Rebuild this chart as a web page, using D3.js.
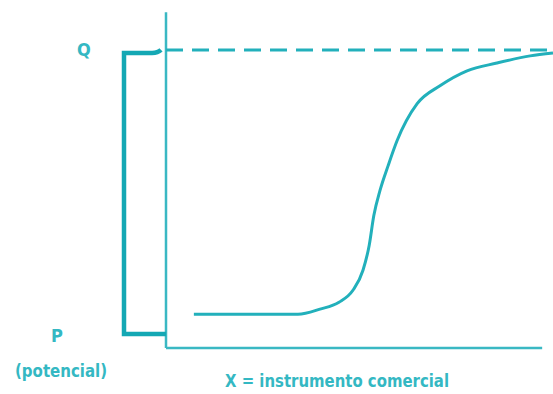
<!DOCTYPE html>
<html>
<head>
<meta charset="utf-8">
<script src="https://cdn.jsdelivr.net/npm/d3@7"></script>
<style>
  html, body { margin: 0; padding: 0; background: #fff; }
  svg { display: block; }
  .lbl { font-family: "Liberation Sans Narrow", "DejaVu Sans Condensed", sans-serif; font-weight: bold; fill: #34b8c3; }
</style>
</head>
<body>
<div id="chart"></div>
<script>
// curva de adopción (x = instrumento comercial, y = nivel)
const curveX = [7.2, 34.1, 39.8, 44.7, 48.3, 50.9, 52.5, 53.7, 55.3, 57.4, 59.7, 64.9, 70.8, 77.8, 85.5, 94.1, 100];
const curveY = [11.3, 11.3, 13.0, 15.3, 19.3, 26.0, 34.3, 44.3, 52.7, 61.0, 69.3, 81.7, 87.7, 92.7, 95.3, 97.7, 98.7];

// niveles P (potencial) y Q
const levelNames = ["P", "Q"];
const levelValues = [4.7, 99.7];

const xAxisMax = 97.2, yAxisMax = 112.3;
const xLabel = "X = instrumento comercial";
const pNote = "(potencial)";

const width = 553, height = 394;
const teal = "#22b0bb", bracketTeal = "#14a8b4";

const x = d3.scaleLinear().domain([0, 100]).range([166, 553]);
const y = d3.scaleLinear().domain([0, 100]).range([348, 49]);

const svg = d3.select("#chart").append("svg")
    .attr("width", width)
    .attr("height", height);

// ejes
svg.append("line")
    .attr("x1", x(0)).attr("x2", x(0))
    .attr("y1", y(0)).attr("y2", y(yAxisMax))
    .attr("stroke", "#3ab8c3").attr("stroke-width", 2.5);
svg.append("line")
    .attr("x1", x(0)).attr("x2", x(xAxisMax))
    .attr("y1", y(0)).attr("y2", y(0))
    .attr("stroke", "#3ab8c3").attr("stroke-width", 2.5);

// línea Q discontinua
svg.append("line")
    .attr("x1", x(0)).attr("x2", x(100))
    .attr("y1", y(levelValues[1])).attr("y2", y(levelValues[1]))
    .attr("stroke", teal).attr("stroke-width", 3)
    .attr("stroke-dasharray", "17,9");

// corchete P..Q
const bx = x(0) - 42;
const yTop = y(levelValues[1]) + 3, yBot = y(levelValues[0]);
svg.append("path")
    .attr("d", `M${x(0) - 5},${yTop - 3} Q${x(0) - 8},${yTop} ${x(0) - 14},${yTop} L${bx},${yTop} L${bx},${yBot} L${x(0)},${yBot}`)
    .attr("fill", "none")
    .attr("stroke", bracketTeal).attr("stroke-width", 4.5)
    .attr("stroke-linejoin", "miter");

// curva
const pts = curveX.map((d, i) => [d, curveY[i]]);
svg.append("path")
    .datum(pts)
    .attr("fill", "none")
    .attr("stroke", teal)
    .attr("stroke-width", 3)
    .attr("d", d3.line().x(d => x(d[0])).y(d => y(d[1])).curve(d3.curveMonotoneX));

// etiquetas
svg.append("text").attr("class", "lbl")
    .attr("x", 84).attr("y", y(levelValues[1]) + 6)
    .attr("text-anchor", "middle").style("font-size", "18px")
    .text(levelNames[1]);
svg.append("text").attr("class", "lbl")
    .attr("x", 57).attr("y", yBot + 8)
    .attr("text-anchor", "middle").style("font-size", "18px")
    .text(levelNames[0]);
svg.append("text").attr("class", "lbl")
    .attr("x", 61).attr("y", 377)
    .attr("text-anchor", "middle").style("font-size", "18px")
    .attr("textLength", 92).attr("lengthAdjust", "spacingAndGlyphs")
    .text(pNote);
svg.append("text").attr("class", "lbl")
    .attr("x", 337).attr("y", 387)
    .attr("text-anchor", "middle").style("font-size", "18px")
    .attr("textLength", 224).attr("lengthAdjust", "spacingAndGlyphs")
    .text(xLabel);
</script>
</body>
</html>
